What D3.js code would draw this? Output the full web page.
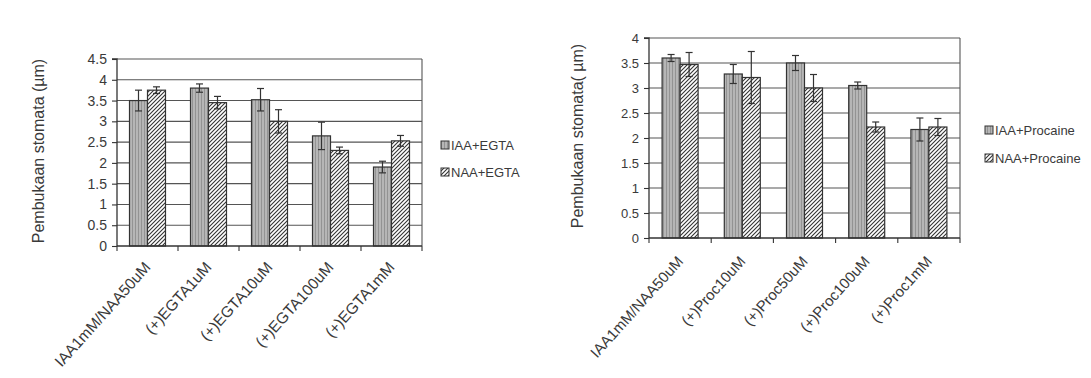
<!DOCTYPE html>
<html><head><meta charset="utf-8">
<script src="https://cdn.jsdelivr.net/npm/d3@7"></script>
<style>body{margin:0;background:#fff;} svg{display:block;font-family:"Liberation Sans",Arial,sans-serif;}</style>
</head><body><svg id="c" width="1091" height="378"></svg>
<script>
// ---- Data: chart 1 (EGTA) ----
const categoriesEGTA = ["IAA1mM/NAA50uM","(+)EGTA1uM","(+)EGTA10uM","(+)EGTA100uM","(+)EGTA1mM"];
const iaaEGTA    = [3.50, 3.80, 3.52, 2.65, 1.90];
const iaaEGTAErr = [0.25, 0.10, 0.27, 0.33, 0.14];
const naaEGTA    = [3.75, 3.45, 3.00, 2.30, 2.53];
const naaEGTAErr = [0.08, 0.15, 0.28, 0.08, 0.13];
const yTicksEGTA = [0,0.5,1,1.5,2,2.5,3,3.5,4,4.5];
const seriesEGTA = ["IAA+EGTA","NAA+EGTA"];

// ---- Data: chart 2 (Procaine) ----
const categoriesProc = ["IAA1mM/NAA50uM","(+)Proc10uM","(+)Proc50uM","(+)Proc100uM","(+)Proc1mM"];
const iaaProc    = [3.60, 3.28, 3.50, 3.05, 2.17];
const iaaProcErr = [0.07, 0.19, 0.15, 0.07, 0.23];
const naaProc    = [3.47, 3.21, 3.00, 2.22, 2.22];
const naaProcErr = [0.24, 0.52, 0.27, 0.10, 0.17];
const yTicksProc = [0,0.5,1,1.5,2,2.5,3,3.5,4];
const seriesProc = ["IAA+Procaine","NAA+Procaine"];

const svg = d3.select("#c");
const defs = svg.append("defs");
const pg = defs.append("pattern").attr("id","gray").attr("patternUnits","userSpaceOnUse").attr("width",3).attr("height",3);
pg.append("rect").attr("width",3).attr("height",3).attr("fill","#b6b6b6");
pg.append("line").attr("x1",0.5).attr("x2",0.5).attr("y1",0).attr("y2",3).attr("stroke","#939393").attr("stroke-width",1);
const ph = defs.append("pattern").attr("id","hatch").attr("patternUnits","userSpaceOnUse").attr("width",4).attr("height",4);
ph.append("rect").attr("width",4).attr("height",4).attr("fill","#fff");
ph.append("path").attr("d","M-1,1 l2,-2 M0,4 l4,-4 M3,5 l2,-2").attr("stroke","#333").attr("stroke-width",1.1);
const fills = ["url(#gray)","url(#hatch)"];
const ink = "#333";

function drawChart(o){
  const g = svg.append("g");
  const x = d3.scaleBand().domain(o.categories).range([o.left, o.right]);
  const y = d3.scaleLinear().domain([0, o.yMax]).range([o.bottom, o.top]);
  const barW = 18;
  const xs = d3.scaleBand().domain([0,1]).range([0, 2*barW]);

  // gridlines
  g.selectAll("line.grid").data(o.yTicks.filter(d=>d>0)).join("line").attr("class","grid")
    .attr("x1",o.left).attr("x2",o.right).attr("y1",d=>y(d)).attr("y2",d=>y(d))
    .attr("stroke","#555").attr("stroke-width",1.1);
  // right border
  g.append("line").attr("x1",o.right).attr("x2",o.right).attr("y1",y(o.yMax)).attr("y2",y(0))
    .attr("stroke","#555").attr("stroke-width",1.1);

  // bars
  const series = [o.iaa, o.naa];
  const errs = [o.iaaErr, o.naaErr];
  series.forEach((vals, si) => {
    const data = o.categories.map((c,i)=>({c, v:vals[i], e:errs[si][i]}));
    const bx = d => x(d.c) + x.bandwidth()/2 - barW + xs(si);
    g.selectAll(null).data(data).join("rect")
      .attr("x", bx).attr("y", d=>y(d.v)).attr("width", barW).attr("height", d=>y(0)-y(d.v))
      .attr("fill", fills[si]).attr("stroke", ink).attr("stroke-width",1.2);
    const eb = g.selectAll(null).data(data).join("g");
    eb.append("line").attr("x1", d=>bx(d)+barW/2).attr("x2", d=>bx(d)+barW/2)
      .attr("y1", d=>y(d.v-d.e)).attr("y2", d=>y(d.v+d.e)).attr("stroke", ink).attr("stroke-width",1.2);
    [-1,1].forEach(s=>{
      eb.append("line").attr("x1", d=>bx(d)+barW/2-3.5).attr("x2", d=>bx(d)+barW/2+3.5)
        .attr("y1", d=>y(d.v+s*d.e)).attr("y2", d=>y(d.v+s*d.e)).attr("stroke", ink).attr("stroke-width",1.2);
    });
  });

  // y axis
  const ya = g.append("g").attr("transform",`translate(${o.left},0)`)
    .call(d3.axisLeft(y).tickValues(o.yTicks).tickSize(5).tickPadding(5).tickFormat(d=>String(d)));
  ya.select(".domain").attr("stroke", ink).attr("stroke-width",1.3).attr("d",`M-5,${y(o.yMax)}H0V${y(0)}`);
  ya.selectAll(".tick line").attr("stroke", ink).attr("stroke-width",1.1);
  ya.selectAll(".tick text").attr("fill","#3a3a3a").style("font-size", o.tickFont+"px");

  // x axis with ticks at category boundaries
  const xa = g.append("g").attr("transform",`translate(0,${o.bottom})`)
    .call(d3.axisBottom(x).tickSize(0).tickFormat(""));
  xa.select(".domain").attr("stroke", ink).attr("stroke-width",1.3).attr("d",`M${o.left},0H${o.right}`);
  const bounds = o.categories.map(c=>x(c)).concat([o.right]);
  xa.selectAll("line.bt").data(bounds).join("line").attr("class","bt")
    .attr("x1",d=>d).attr("x2",d=>d).attr("y1",0).attr("y2",5).attr("stroke",ink).attr("stroke-width",1.1);
  xa.selectAll("text.xl").data(o.categories).join("text").attr("class","xl")
    .attr("transform", d=>`translate(${x(d)+x.bandwidth()/2+o.lblDx},${o.lblDy}) rotate(-48)`)
    .attr("text-anchor","end").attr("fill","#3a3a3a").style("font-size", o.xFont+"px").text(d=>d);

  // y title
  g.append("text").attr("transform",`translate(${o.titleX},${o.titleY}) rotate(-90)`)
    .attr("text-anchor","middle").attr("fill","#3a3a3a").style("font-size","16px").text(o.yTitle);

  // legend
  o.seriesNames.forEach((s,i)=>{
    const ly = o.legendY + i*o.legendGap;
    g.append("rect").attr("x",o.legendX).attr("y",ly-4).attr("width",8).attr("height",8)
      .attr("fill",fills[i]).attr("stroke",ink).attr("stroke-width",1);
    g.append("text").attr("x",o.legendX+10).attr("y",ly).attr("dy","0.35em")
      .attr("fill","#3a3a3a").style("font-size","13px").text(s);
  });
}

drawChart({categories:categoriesEGTA, iaa:iaaEGTA, iaaErr:iaaEGTAErr, naa:naaEGTA, naaErr:naaEGTAErr,
  yTicks:yTicksEGTA, yMax:4.5, seriesNames:seriesEGTA,
  left:117, right:422, top:59, bottom:246, tickFont:14, xFont:15.5, lblDx:4, lblDy:22,
  titleX:44, titleY:151, yTitle:"Pembukaan stomata (µm)",
  legendX:441, legendY:145, legendGap:27});

drawChart({categories:categoriesProc, iaa:iaaProc, iaaErr:iaaProcErr, naa:naaProc, naaErr:naaProcErr,
  yTicks:yTicksProc, yMax:4, seriesNames:seriesProc,
  left:649, right:960, top:38, bottom:238, tickFont:13, xFont:15, lblDx:4, lblDy:24,
  titleX:583, titleY:136, yTitle:"Pembukaan stomata( µm)",
  legendX:985, legendY:130, legendGap:28});
</script></body></html>
